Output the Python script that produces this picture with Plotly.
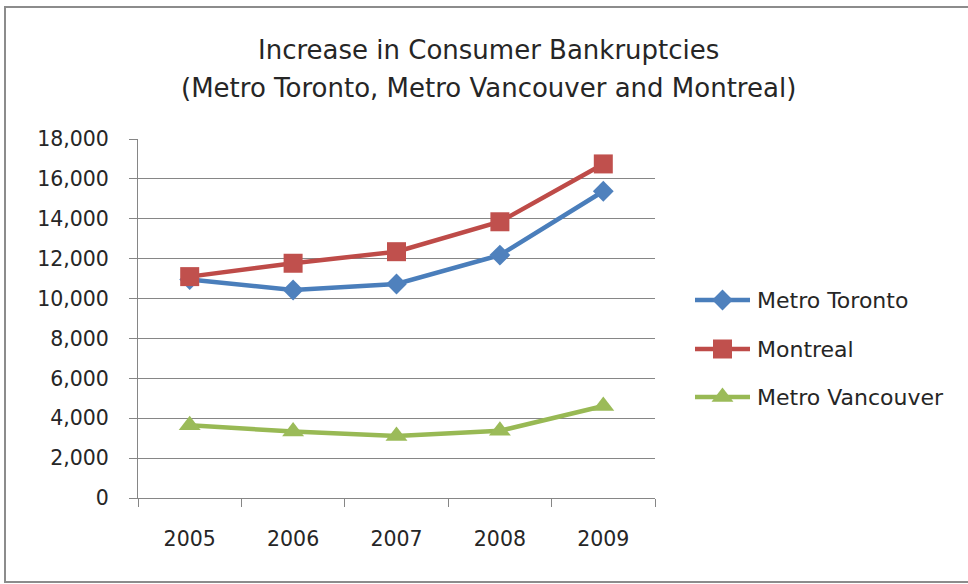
import plotly.graph_objects as go

# Consumer bankruptcies by year for three metro areas
years = ["2005", "2006", "2007", "2008", "2009"]
toronto = [10950, 10430, 10730, 12180, 15380]
montreal = [11100, 11770, 12350, 13850, 16750]
vancouver = [3650, 3330, 3110, 3370, 4610]

series_names = ["Metro Toronto", "Montreal", "Metro Vancouver"]
series_values = [toronto, montreal, vancouver]
line_colors = ["#4A7EBB", "#BE4B48", "#98B954"]
marker_colors = ["#4F81BD", "#C0504D", "#9BBB59"]
marker_symbols = ["diamond", "square", "triangle-up"]
marker_sizes = [16, 19, 19]

y_ticks = list(range(0, 18001, 2000))
y_tick_text = [f"{v:,}" for v in y_ticks]

W, H = 968, 584
FONT = "DejaVu Sans"
TEXT = "#262626"
AXIS = "#868686"

# plot area in pixels
px_left, px_right, px_top, px_bottom = 138, 655, 139, 498


def fx(px):
    return px / W


def fy(py):
    return (H - py) / H


fig = go.Figure()

for name, vals, lc, mc, sym, sz in zip(series_names, series_values, line_colors,
                                       marker_colors, marker_symbols, marker_sizes):
    fig.add_trace(go.Scatter(
        x=years, y=vals, name=name, mode="lines+markers",
        line=dict(color=lc, width=4.5),
        marker=dict(symbol=sym, size=sz, color=mc, line=dict(width=0)),
        showlegend=False, cliponaxis=False,
    ))

# legend drawn on a pixel-scaled overlay axis
leg_x0, leg_x1 = 680, 968
leg_y0, leg_y1 = 270, 430
leg_rows = [300, 349, 397]
annotations = []
for name, lc, mc, sym, sz, ry in zip(series_names, line_colors, marker_colors,
                                     marker_symbols, marker_sizes, leg_rows):
    fig.add_trace(go.Scatter(
        x=[695, 750], y=[ry, ry], mode="lines", line=dict(color=lc, width=4.5),
        xaxis="x2", yaxis="y2", showlegend=False, hoverinfo="skip",
    ))
    fig.add_trace(go.Scatter(
        x=[722.5], y=[ry], mode="markers",
        marker=dict(symbol=sym, size=sz, color=mc, line=dict(width=0)),
        xaxis="x2", yaxis="y2", showlegend=False, hoverinfo="skip", cliponaxis=False,
    ))
    annotations.append(dict(
        x=755, y=ry, xref="x2", yref="y2", text=name, showarrow=False,
        xanchor="left", yanchor="middle", font=dict(family=FONT, size=22, color=TEXT),
    ))

# two-line title
for txt, cy in [("Increase in Consumer Bankruptcies", 50),
                ("(Metro Toronto, Metro Vancouver and Montreal)", 88)]:
    annotations.append(dict(
        x=fx(489), y=fy(cy), xref="paper", yref="paper", text=txt, showarrow=False,
        xanchor="center", yanchor="middle", font=dict(family=FONT, size=26, color=TEXT),
    ))

fig.update_layout(
    width=W, height=H, autosize=False,
    margin=dict(l=0, r=0, t=0, b=0, pad=0, autoexpand=False),
    showlegend=False,
    paper_bgcolor="white", plot_bgcolor="white",
    font=dict(family=FONT, color=TEXT),
    annotations=annotations,
    xaxis=dict(
        domain=[fx(px_left), fx(px_right)], automargin=False,
        type="category", range=[-0.5, 4.5],
        showgrid=False, showline=True, linecolor=AXIS, linewidth=1,
        ticks="outside", ticklen=8, tickcolor=AXIS, tickson="boundaries",
        tickfont=dict(family=FONT, size=20.5, color=TEXT),
        ticklabelstandoff=22, fixedrange=True,
    ),
    yaxis=dict(
        domain=[fy(px_bottom), fy(px_top)], automargin=False,
        range=[0, 18000], tickvals=y_ticks, ticktext=y_tick_text,
        showgrid=True, gridcolor=AXIS, gridwidth=1, zeroline=False,
        showline=True, linecolor=AXIS, linewidth=1,
        ticks="outside", ticklen=8, tickcolor=AXIS,
        tickfont=dict(family=FONT, size=20.5, color=TEXT),
        ticklabelstandoff=16, fixedrange=True,
    ),
    xaxis2=dict(
        domain=[fx(leg_x0), fx(leg_x1)], range=[leg_x0, leg_x1], automargin=False,
        anchor="y2", visible=False, fixedrange=True,
    ),
    yaxis2=dict(
        domain=[fy(leg_y1), fy(leg_y0)], range=[leg_y1, leg_y0], automargin=False,
        anchor="x2", visible=False, fixedrange=True,
    ),
    shapes=[dict(
        type="rect", xref="paper", yref="paper",
        x0=fx(5), x1=1.05, y0=fy(582), y1=fy(7),
        line=dict(color="#8C8C8C", width=2), fillcolor="rgba(0,0,0,0)", layer="below",
    )],
)

fig.write_html("out.html")
